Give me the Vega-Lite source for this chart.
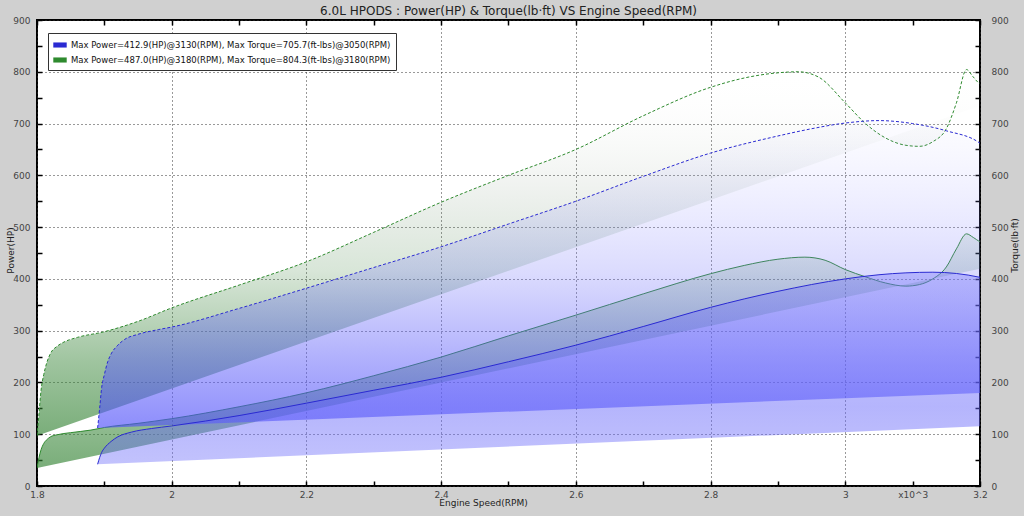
{
  "$schema": "https://vega.github.io/schema/vega-lite/v6.json",
  "width": 943,
  "height": 466,
  "autosize": {"type": "none"},
  "padding": {"left": 37, "top": 20, "right": 44, "bottom": 30},
  "background": "#d0d0d0",
  "title": {"text": "6.0L HPODS : Power(HP) & Torque(lb·ft) VS Engine Speed(RPM)", "font": "DejaVu Sans", "fontSize": 12, "fontWeight": "normal", "color": "#222", "offset": -2, "anchor": "middle"},
  "datasets": {
    "d": [
      {"s":"gt","g":"G","x":1.8,"y":97},{"s":"gt","g":"G","x":1.803,"y":140},{"s":"gt","g":"G","x":1.806,"y":185},{"s":"gt","g":"G","x":1.81,"y":215},{"s":"gt","g":"G","x":1.815,"y":240},{"s":"gt","g":"G","x":1.82,"y":256},{"s":"gt","g":"G","x":1.83,"y":270},{"s":"gt","g":"G","x":1.84,"y":278},{"s":"gt","g":"G","x":1.86,"y":287},{"s":"gt","g":"G","x":1.9,"y":298},{"s":"gt","g":"G","x":1.95,"y":318},{"s":"gt","g":"G","x":2.0,"y":344},{"s":"gt","g":"G","x":2.1,"y":388},{"s":"gt","g":"G","x":2.2,"y":433},{"s":"gt","g":"G","x":2.3,"y":490},{"s":"gt","g":"G","x":2.4,"y":548},{"s":"gt","g":"G","x":2.5,"y":600},{"s":"gt","g":"G","x":2.6,"y":650},{"s":"gt","g":"G","x":2.7,"y":715},{"s":"gt","g":"G","x":2.8,"y":770},{"s":"gt","g":"G","x":2.85,"y":788},{"s":"gt","g":"G","x":2.9,"y":798},{"s":"gt","g":"G","x":2.93,"y":800},{"s":"gt","g":"G","x":2.96,"y":790},{"s":"gt","g":"G","x":3.0,"y":740},{"s":"gt","g":"G","x":3.03,"y":700},{"s":"gt","g":"G","x":3.06,"y":672},{"s":"gt","g":"G","x":3.09,"y":658},{"s":"gt","g":"G","x":3.11,"y":656},{"s":"gt","g":"G","x":3.13,"y":665},{"s":"gt","g":"G","x":3.15,"y":690},{"s":"gt","g":"G","x":3.165,"y":740},{"s":"gt","g":"G","x":3.18,"y":804.3},{"s":"gt","g":"G","x":3.19,"y":790},{"s":"gt","g":"G","x":3.2,"y":778},{"s":"gt","g":"G","x":3.3,"y":780},
      {"s":"gp","g":"G","x":1.8,"y":35},{"s":"gp","g":"G","x":1.803,"y":55},{"s":"gp","g":"G","x":1.806,"y":70},{"s":"gp","g":"G","x":1.81,"y":82},{"s":"gp","g":"G","x":1.815,"y":90},{"s":"gp","g":"G","x":1.82,"y":95},{"s":"gp","g":"G","x":1.83,"y":99},{"s":"gp","g":"G","x":1.85,"y":103},{"s":"gp","g":"G","x":1.88,"y":108},{"s":"gp","g":"G","x":1.9,"y":113},{"s":"gp","g":"G","x":1.95,"y":121},{"s":"gp","g":"G","x":2.0,"y":130},{"s":"gp","g":"G","x":2.1,"y":153},{"s":"gp","g":"G","x":2.2,"y":180},{"s":"gp","g":"G","x":2.3,"y":213},{"s":"gp","g":"G","x":2.4,"y":249},{"s":"gp","g":"G","x":2.5,"y":290},{"s":"gp","g":"G","x":2.6,"y":330},{"s":"gp","g":"G","x":2.7,"y":371},{"s":"gp","g":"G","x":2.8,"y":410},{"s":"gp","g":"G","x":2.85,"y":426},{"s":"gp","g":"G","x":2.9,"y":438},{"s":"gp","g":"G","x":2.94,"y":442},{"s":"gp","g":"G","x":2.97,"y":436},{"s":"gp","g":"G","x":3.0,"y":418},{"s":"gp","g":"G","x":3.03,"y":404},{"s":"gp","g":"G","x":3.06,"y":392},{"s":"gp","g":"G","x":3.09,"y":386},{"s":"gp","g":"G","x":3.11,"y":389},{"s":"gp","g":"G","x":3.13,"y":400},{"s":"gp","g":"G","x":3.15,"y":423},{"s":"gp","g":"G","x":3.165,"y":458},{"s":"gp","g":"G","x":3.18,"y":487},{"s":"gp","g":"G","x":3.19,"y":480},{"s":"gp","g":"G","x":3.2,"y":472},{"s":"gp","g":"G","x":3.3,"y":447},
      {"s":"bt","g":"B","x":1.89,"y":112},{"s":"bt","g":"B","x":1.893,"y":150},{"s":"bt","g":"B","x":1.896,"y":190},{"s":"bt","g":"B","x":1.9,"y":215},{"s":"bt","g":"B","x":1.905,"y":240},{"s":"bt","g":"B","x":1.91,"y":255},{"s":"bt","g":"B","x":1.92,"y":272},{"s":"bt","g":"B","x":1.93,"y":283},{"s":"bt","g":"B","x":1.95,"y":293},{"s":"bt","g":"B","x":1.98,"y":302},{"s":"bt","g":"B","x":2.0,"y":307},{"s":"bt","g":"B","x":2.1,"y":343},{"s":"bt","g":"B","x":2.2,"y":382},{"s":"bt","g":"B","x":2.3,"y":422},{"s":"bt","g":"B","x":2.4,"y":462},{"s":"bt","g":"B","x":2.5,"y":506},{"s":"bt","g":"B","x":2.6,"y":550},{"s":"bt","g":"B","x":2.7,"y":598},{"s":"bt","g":"B","x":2.8,"y":643},{"s":"bt","g":"B","x":2.9,"y":676},{"s":"bt","g":"B","x":2.95,"y":690},{"s":"bt","g":"B","x":3.0,"y":701},{"s":"bt","g":"B","x":3.05,"y":705.7},{"s":"bt","g":"B","x":3.1,"y":700},{"s":"bt","g":"B","x":3.15,"y":686},{"s":"bt","g":"B","x":3.2,"y":662},{"s":"bt","g":"B","x":3.3,"y":185},
      {"s":"bp","g":"B","x":1.89,"y":42},{"s":"bp","g":"B","x":1.893,"y":55},{"s":"bp","g":"B","x":1.896,"y":65},{"s":"bp","g":"B","x":1.9,"y":73},{"s":"bp","g":"B","x":1.91,"y":86},{"s":"bp","g":"B","x":1.92,"y":95},{"s":"bp","g":"B","x":1.94,"y":104},{"s":"bp","g":"B","x":1.97,"y":111},{"s":"bp","g":"B","x":2.0,"y":116},{"s":"bp","g":"B","x":2.1,"y":136},{"s":"bp","g":"B","x":2.2,"y":160},{"s":"bp","g":"B","x":2.3,"y":185},{"s":"bp","g":"B","x":2.4,"y":210},{"s":"bp","g":"B","x":2.5,"y":240},{"s":"bp","g":"B","x":2.6,"y":272},{"s":"bp","g":"B","x":2.7,"y":308},{"s":"bp","g":"B","x":2.8,"y":345},{"s":"bp","g":"B","x":2.9,"y":376},{"s":"bp","g":"B","x":3.0,"y":400},{"s":"bp","g":"B","x":3.05,"y":408},{"s":"bp","g":"B","x":3.13,"y":412.9},{"s":"bp","g":"B","x":3.2,"y":403},{"s":"bp","g":"B","x":3.3,"y":121}
    ]
  },
  "data": {"name": "d"},
  "encoding": {
    "x": {"field": "x", "type": "quantitative", "scale": {"domain": [1.8, 3.2], "nice": false, "zero": false}},
    "y": {"field": "y", "type": "quantitative", "scale": {"domain": [0, 900], "nice": false}}
  },
  "layer": [
    {
      "transform": [{"filter": "datum.s == 'gt'"}],
      "mark": {"type": "line", "clip": true, "interpolate": "monotone", "stroke": "transparent", "strokeWidth": 0,
        "fill": {"gradient": "linear", "x1": 0, "y1": 0, "x2": 0, "y2": 1, "stops": [
          {"offset": 0, "color": "rgba(255,255,255,0)"},
          {"offset": 0.3, "color": "rgba(80,110,80,0.08)"},
          {"offset": 0.55, "color": "rgba(60,130,60,0.2)"},
          {"offset": 0.8, "color": "rgba(50,130,50,0.47)"},
          {"offset": 1, "color": "rgba(50,130,50,0.65)"}]}},
      "encoding": {
        "x": {"field": "x", "type": "quantitative", "title": "Engine Speed(RPM)",
          "axis": {"orient": "bottom", "values": [1.8,1.9,2,2.1,2.2,2.3,2.4,2.5,2.6,2.7,2.8,2.9,3,3.1,3.2],
            "labelExpr": "round(datum.value*10)%2==0 ? '' + datum.value : (round(datum.value*10)==31 ? 'x10^3' : '')",
            "labelOverlap": false, "labelFlush": false, "labelBound": false, "labelPadding": 9,
            "grid": true, "gridOpacity": {"condition": {"test": "round(datum.value*10)%2==0", "value": 1}, "value": 0},
            "titleX": 446, "titleY": 12, "titleAnchor": null, "titleAlign": "center", "titleBaseline": "top"}},
        "y": {"field": "y", "type": "quantitative", "title": "Power(HP)",
          "axis": {"orient": "left", "values": [0,50,100,150,200,250,300,350,400,450,500,550,600,650,700,750,800,850,900],
            "labelExpr": "datum.value%100==0 ? datum.label : ''", "labelOverlap": false, "labelFlush": false, "labelBound": false, "labelPadding": 12,
            "grid": true, "gridOpacity": {"condition": {"test": "datum.value%100==0", "value": 1}, "value": 0},
            "titleX": -27, "titleY": 230, "titleAngle": -90, "titleAlign": "center", "titleBaseline": "middle", "titleAnchor": null}}
      }
    },
    {
      "transform": [{"filter": "datum.s == 'gt'"}],
      "mark": {"type": "line", "clip": true, "interpolate": "monotone", "strokeWidth": 1, "strokeDash": [3, 2]},
      "encoding": {
        "x": {"field": "x", "type": "quantitative", "axis": {"orient": "top", "values": [1.8,1.9,2,2.1,2.2,2.3,2.4,2.5,2.6,2.7,2.8,2.9,3,3.1,3.2], "labels": false, "title": null, "grid": false}},
        "y": {"field": "y", "type": "quantitative", "title": "Torque(lb·ft)",
          "axis": {"orient": "right", "values": [0,50,100,150,200,250,300,350,400,450,500,550,600,650,700,750,800,850,900],
            "labelExpr": "datum.value%100==0 ? datum.label : ''", "labelOverlap": false, "labelFlush": false, "labelBound": false, "labelPadding": 16,
            "grid": false, "titleX": 34, "titleY": 225, "titleAngle": 270, "titleAlign": "center", "titleBaseline": "middle", "titleAnchor": null}},
        "color": {"field": "g", "type": "nominal", "scale": {"domain": ["B", "G"], "range": ["#2a2ad2", "#2e8a2e"]},
          "legend": {"orient": "none", "legendX": 11, "legendY": 13, "title": null, "fillColor": "white", "strokeColor": "#333", "padding": 5,
            "labelFont": "DejaVu Sans", "labelFontSize": 8.5, "labelColor": "#111", "labelLimit": 0, "rowPadding": 3,
            "symbolType": "M-1,-0.38L1,-0.38L1,0.38L-1,0.38Z", "symbolSize": 180,
            "labelExpr": "datum.value == 'B' ? 'Max Power=412.9(HP)@3130(RPM), Max Torque=705.7(ft-lbs)@3050(RPM)' : 'Max Power=487.0(HP)@3180(RPM), Max Torque=804.3(ft-lbs)@3180(RPM)'",
            "encode": {"symbols": {"update": {"fill": {"scale": "color", "field": "value"}, "strokeWidth": {"value": 0}, "strokeDash": {"value": []}}}}}}
      }
    },
    {
      "transform": [{"filter": "datum.s == 'gp'"}],
      "mark": {"type": "line", "clip": true, "interpolate": "monotone", "stroke": "transparent", "strokeWidth": 0,
        "fill": {"gradient": "linear", "x1": 0, "y1": 0, "x2": 0, "y2": 1, "stops": [
          {"offset": 0, "color": "rgba(50,130,50,0.1)"},
          {"offset": 0.5, "color": "rgba(50,130,50,0.35)"},
          {"offset": 1, "color": "rgba(50,130,50,0.65)"}]}},
      "encoding": {"x": {"field": "x", "type": "quantitative", "axis": null}, "y": {"field": "y", "type": "quantitative", "axis": null}}
    },
    {
      "transform": [{"filter": "datum.s == 'gp'"}],
      "mark": {"type": "line", "clip": true, "interpolate": "monotone", "strokeWidth": 1},
      "encoding": {"x": {"field": "x", "type": "quantitative", "axis": null}, "y": {"field": "y", "type": "quantitative", "axis": null},
        "color": {"field": "g", "type": "nominal"}}
    },
    {
      "transform": [{"filter": "datum.s == 'bt'"}],
      "mark": {"type": "line", "clip": true, "interpolate": "monotone", "stroke": "transparent", "strokeWidth": 0,
        "fill": {"gradient": "linear", "x1": 0, "y1": 0, "x2": 0, "y2": 1, "stops": [
          {"offset": 0, "color": "rgba(200,200,255,0.05)"},
          {"offset": 0.2, "color": "rgba(150,150,255,0.12)"},
          {"offset": 0.5, "color": "rgba(110,110,250,0.25)"},
          {"offset": 0.8, "color": "rgba(90,90,250,0.5)"},
          {"offset": 1, "color": "rgba(80,80,250,0.65)"}]}},
      "encoding": {"x": {"field": "x", "type": "quantitative", "axis": null}, "y": {"field": "y", "type": "quantitative", "axis": null}}
    },
    {
      "transform": [{"filter": "datum.s == 'bt'"}],
      "mark": {"type": "line", "clip": true, "interpolate": "monotone", "strokeWidth": 1, "strokeDash": [3, 2]},
      "encoding": {"x": {"field": "x", "type": "quantitative", "axis": null}, "y": {"field": "y", "type": "quantitative", "axis": null},
        "color": {"field": "g", "type": "nominal"}}
    },
    {
      "transform": [{"filter": "datum.s == 'bp'"}],
      "mark": {"type": "line", "clip": true, "interpolate": "monotone", "stroke": "transparent", "strokeWidth": 0,
        "fill": {"gradient": "linear", "x1": 0, "y1": 0, "x2": 0, "y2": 1, "stops": [
          {"offset": 0, "color": "rgba(110,110,250,0.35)"},
          {"offset": 0.7, "color": "rgba(100,100,250,0.48)"},
          {"offset": 1, "color": "rgba(110,110,250,0.42)"}]}},
      "encoding": {"x": {"field": "x", "type": "quantitative", "axis": null}, "y": {"field": "y", "type": "quantitative", "axis": null}}
    },
    {
      "transform": [{"filter": "datum.s == 'bp'"}],
      "mark": {"type": "line", "clip": true, "interpolate": "monotone", "strokeWidth": 1},
      "encoding": {"x": {"field": "x", "type": "quantitative", "axis": null}, "y": {"field": "y", "type": "quantitative", "axis": null},
        "color": {"field": "g", "type": "nominal"}}
    }
  ],
  "resolve": {"axis": {"x": "independent", "y": "independent"}},
  "config": {
    "font": "DejaVu Sans",
    "view": {"fill": "white", "stroke": "#000", "strokeWidth": 2},
    "axis": {"domain": false, "labelFont": "DejaVu Sans", "labelFontSize": 9, "labelColor": "#444",
      "titleFont": "DejaVu Sans", "titleFontSize": 9, "titleFontWeight": "normal", "titleColor": "#222",
      "tickColor": "#000", "tickWidth": 1.5, "tickSize": -5,
      "gridColor": "#333", "gridDash": [1, 3], "gridWidth": 1}
  }
}
